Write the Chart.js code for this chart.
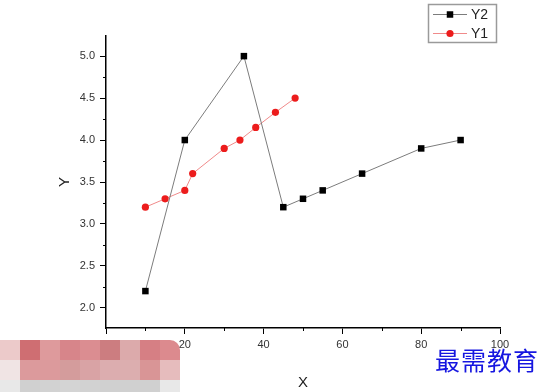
<!DOCTYPE html>
<html>
<head>
<meta charset="utf-8">
<script src="https://cdn.jsdelivr.net/npm/chart.js@4.4.1/dist/chart.umd.min.js"></script>
<style>
  body { margin: 0; background: #fff; }
  #wrap { position: relative; width: 557px; height: 392px; }
  #mark { position: absolute; left: 435px; top: 341px; font: 25px "Noto Sans CJK SC"; color: #1616e0; letter-spacing: 1px; }
  #mosaic { position: absolute; left: 0; top: 340px; display: grid; grid-template-columns: repeat(9, 20px); grid-template-rows: 20px 20px 12px; border-top-right-radius: 10px; overflow: hidden; }
</style>
</head>
<body>
<div id="wrap">
  <canvas id="chart" width="557" height="392"></canvas>
  <div id="mosaic"></div>
  <div id="mark">最需教育</div>
</div>
<script>
// values
const y2X = [10, 20, 35, 45, 50, 55, 65, 80, 90];
const y2Y = [2.2, 4.0, 5.0, 3.2, 3.3, 3.4, 3.6, 3.9, 4.0];
const y1X = [10, 15, 20, 22, 30, 34, 38, 43, 48];
const y1Y = [3.2, 3.3, 3.4, 3.6, 3.9, 4.0, 4.15, 4.33, 4.5];

const xTicks = [0, 20, 40, 60, 80, 100];
const xMinor = [10, 30, 50, 70, 90];
const yTicks = [2.0, 2.5, 3.0, 3.5, 4.0, 4.5, 5.0];
const yMinor = [2.25, 2.75, 3.25, 3.75, 4.25, 4.75];

// pixelated blur patch in the bottom-left corner of the original image
const mosaicColors = [
  '#eccaca', '#cf6e72', '#de9a9c', '#d7858a', '#db8d91', '#cc7d80', '#dcaaab', '#d67f84', '#dc8a8e',
  '#f0e4e4', '#dc9a9c', '#dc9a9c', '#d49c9c', '#d9a3a5', '#dcadaf', '#dcaeaf', '#d99596', '#e6bcbd',
  '#e8e8e8', '#d0d0d0', '#d2d2d2', '#d4d4d4', '#d2d2d2', '#d0d0d0', '#d0d0d0', '#d0d0d0', '#e8e8e8',
];
const mosaic = document.getElementById('mosaic');
mosaicColors.forEach(c => {
  const d = document.createElement('div');
  d.style.background = c;
  mosaic.appendChild(d);
});

const toPts = (xs, ys) => xs.map((x, i) => ({ x, y: ys[i] }));

// short outward minor ticks on both axes
const minorTicks = {
  id: 'minorTicks',
  afterDraw(chart) {
    const { ctx, scales: { x, y } } = chart;
    ctx.save();
    ctx.strokeStyle = '#000';
    ctx.lineWidth = 1;
    xMinor.forEach(v => {
      const px = Math.round(x.getPixelForValue(v)) + 0.5;
      ctx.beginPath(); ctx.moveTo(px, x.top); ctx.lineTo(px, x.top + 3); ctx.stroke();
    });
    yMinor.forEach(v => {
      const py = Math.round(y.getPixelForValue(v)) + 0.5;
      ctx.beginPath(); ctx.moveTo(y.right, py); ctx.lineTo(y.right - 3, py); ctx.stroke();
    });
    ctx.restore();
  }
};

// Origin-style boxed legend: line sample with marker in the middle
const boxLegend = {
  id: 'boxLegend',
  afterDraw(chart) {
    const ctx = chart.ctx;
    const left = 428, top = 4, w = 68, h = 38;
    ctx.save();
    ctx.strokeStyle = '#9a9a9a';
    ctx.lineWidth = 1.5;
    ctx.strokeRect(left + 0.5, top + 0.5, w, h);
    chart.data.datasets.forEach((ds, i) => {
      const cy = top + 10 + i * 19 + 0.5;
      ctx.strokeStyle = ds.borderColor;
      ctx.lineWidth = 1;
      ctx.beginPath(); ctx.moveTo(left + 5, cy); ctx.lineTo(left + 39, cy); ctx.stroke();
      ctx.fillStyle = ds.pointBackgroundColor;
      ctx.beginPath();
      if (ds.pointStyle === 'rect') {
        const s = ds.pointRadius * Math.SQRT1_2;
        ctx.rect(left + 22 - s, cy - s, 2 * s, 2 * s);
      } else {
        ctx.arc(left + 22, cy, ds.pointRadius, 0, Math.PI * 2);
      }
      ctx.fill();
      ctx.fillStyle = '#222';
      ctx.font = '14px "Liberation Sans", Arial, sans-serif';
      ctx.textBaseline = 'middle';
      ctx.fillText(ds.label, left + 43, cy + 0.5);
    });
    ctx.restore();
  }
};

const tickFont = { family: '"Liberation Sans", Arial, sans-serif', size: 11 };
const titleFont = { family: '"Liberation Sans", Arial, sans-serif', size: 15 };

new Chart(document.getElementById('chart'), {
  type: 'scatter',
  data: {
    datasets: [
      {
        label: 'Y2', data: toPts(y2X, y2Y), showLine: true,
        borderColor: '#7c7c7c', borderWidth: 1,
        pointStyle: 'rect', pointRadius: 4.6,
        pointBackgroundColor: '#000', pointBorderColor: '#000', pointBorderWidth: 0,
      },
      {
        label: 'Y1', data: toPts(y1X, y1Y), showLine: true,
        borderColor: '#f08a8a', borderWidth: 1,
        pointStyle: 'circle', pointRadius: 3.6,
        pointBackgroundColor: '#ec1c1c', pointBorderColor: '#ec1c1c', pointBorderWidth: 0,
      },
    ],
  },
  options: {
    responsive: false,
    animation: false,
    layout: { padding: { top: 36, right: 57, left: 0, bottom: 0 } },
    plugins: { legend: { display: false }, tooltip: { enabled: false } },
    scales: {
      x: {
        type: 'linear', min: 0, max: 100,
        afterFit: s => { s.height = 64; },
        afterBuildTicks: s => { s.ticks = xTicks.map(v => ({ value: v })); },
        ticks: { color: '#333', font: tickFont, padding: 4, maxRotation: 0, callback: v => String(v) },
        grid: { drawOnChartArea: false, drawTicks: true, tickLength: 6, tickColor: '#000', tickWidth: 1 },
        border: { display: true, color: '#000', width: 1.5 },
        title: { display: true, text: 'X', color: '#222', font: titleFont, padding: { top: 15, bottom: 0 } },
      },
      y: {
        type: 'linear', min: 1.76, max: 5.24,
        afterFit: s => { s.width = 106; },
        afterBuildTicks: s => { s.ticks = yTicks.map(v => ({ value: v })); },
        ticks: { color: '#333', font: tickFont, padding: 5, callback: v => Number(v).toFixed(1) },
        grid: { drawOnChartArea: false, drawTicks: true, tickLength: 6, tickColor: '#000', tickWidth: 1 },
        border: { display: true, color: '#000', width: 1.5 },
        title: { display: true, text: 'Y', color: '#222', font: titleFont, padding: { top: 56, bottom: 0 } },
      },
    },
  },
  plugins: [minorTicks, boxLegend],
});
</script>
</body>
</html>
